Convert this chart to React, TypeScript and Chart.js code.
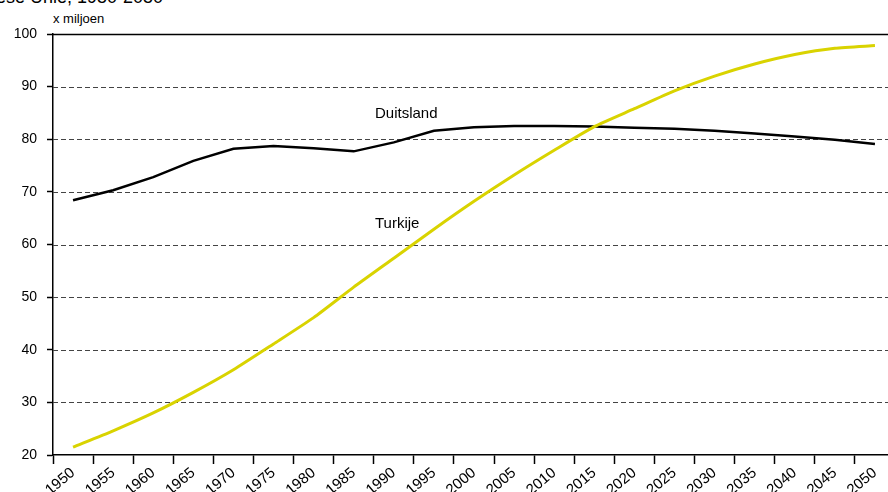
import React, { useEffect, useRef } from "react";
import { Chart, registerables } from "chart.js";

Chart.register(...registerables);

const years = ["1950", "1955", "1960", "1965", "1970", "1975", "1980", "1985", "1990", "1995", "2000", "2005", "2010", "2015", "2020", "2025", "2030", "2035", "2040", "2045", "2050"];
const duitsland = [68.4, 70.3, 72.8, 75.9, 78.2, 78.7, 78.3, 77.7, 79.4, 81.6, 82.3, 82.5, 82.5, 82.4, 82.2, 82.0, 81.6, 81.1, 80.5, 79.9, 79.1];
const turkije = [21.5, 24.6, 28.0, 31.9, 36.2, 41.1, 46.1, 51.9, 57.4, 62.9, 68.2, 73.2, 77.9, 82.4, 85.8, 89.2, 92.0, 94.3, 96.1, 97.3, 97.8];
const yTicks = [20, 30, 40, 50, 60, 70, 80, 90, 100];

const FONT = "'Liberation Sans', Arial, Helvetica, sans-serif";

const gridPlugin = {
  id: "dashGrid",
  beforeDatasetsDraw(chart: any) {
    const { ctx, chartArea, scales } = chart;
    const y = scales.y;
    ctx.save();
    yTicks.forEach((v) => {
      if (v === 20) return;
      const py = Math.round(y.getPixelForValue(v)) + 0.5;
      ctx.beginPath();
      if (v === 100) {
        ctx.setLineDash([]);
        ctx.strokeStyle = "#000";
        ctx.lineWidth = 1.5;
      } else {
        ctx.setLineDash([5, 3]);
        ctx.strokeStyle = "#444";
        ctx.lineWidth = 1;
      }
      ctx.moveTo(chartArea.left, py);
      ctx.lineTo(chartArea.right, py);
      ctx.stroke();
    });
    ctx.restore();
  },
};

export default function App() {
  const ref = useRef<HTMLCanvasElement | null>(null);

  useEffect(() => {
    if (!ref.current) return;
    Chart.defaults.font.family = FONT;
    const chart = new Chart(ref.current, {
      type: "line",
      data: {
        labels: years,
        datasets: [
          {
            label: "Turkije",
            data: turkije,
            borderColor: "#d9d300",
            borderWidth: 3,
            pointRadius: 0,
            tension: 0.2,
            fill: false,
          },
          {
            label: "Duitsland",
            data: duitsland,
            borderColor: "#000000",
            borderWidth: 2.5,
            pointRadius: 0,
            tension: 0,
            fill: false,
          },
        ],
      },
      options: {
        animation: false,
        responsive: false,
        maintainAspectRatio: false,
        layout: { padding: { top: 34, right: 5, left: 0, bottom: 0 } },
        plugins: {
          legend: { display: false },
          tooltip: { enabled: false },
        },
        scales: {
          x: {
            type: "category",
            offset: true,
            grid: {
              offset: true,
              drawOnChartArea: false,
              tickLength: 9,
              tickColor: "#000",
              tickWidth: 1.5,
            },
            border: { color: "#000", width: 1.5 },
            ticks: {
              autoSkip: false,
              minRotation: 40,
              maxRotation: 40,
              padding: 0,
              color: "#000",
              font: { size: 15, family: FONT },
            },
            afterFit: (s: any) => {
              s.height = 37;
            },
          },
          y: {
            min: 20,
            max: 100,
            ticks: {
              stepSize: 10,
              padding: 10,
              color: "#000",
              font: { size: 14, family: FONT },
            },
            grid: {
              drawOnChartArea: false,
              tickLength: 6,
              tickColor: "#000",
              tickWidth: 1.5,
            },
            border: { color: "#000", width: 1.5 },
            afterFit: (s: any) => {
              s.width = 53;
            },
          },
        },
      },
      plugins: [gridPlugin],
    });
    return () => chart.destroy();
  }, []);

  return (
    <div style={{ position: "absolute", left: 0, top: 0, width: 888, height: 492, overflow: "hidden", background: "#fff", fontFamily: FONT }}>
      <div style={{ position: "absolute", right: 725, top: -13, fontSize: 18, whiteSpace: "nowrap", color: "#000", lineHeight: "21px" }}>
        Europese Unie, 1950-2050
      </div>
      <div style={{ position: "absolute", left: 53, top: 11, fontSize: 13, color: "#000", lineHeight: "15px" }}>x miljoen</div>
      <div style={{ position: "absolute", left: 0, top: 0, width: 900, height: 492 }}>
        <canvas ref={ref} width={900} height={492} style={{ width: 900, height: 492, display: "block" }} />
      </div>
      <div style={{ position: "absolute", left: 375, top: 104, fontSize: 15, color: "#000", lineHeight: "17px" }}>Duitsland</div>
      <div style={{ position: "absolute", left: 375, top: 214, fontSize: 15, color: "#000", lineHeight: "17px" }}>Turkije</div>
    </div>
  );
}
